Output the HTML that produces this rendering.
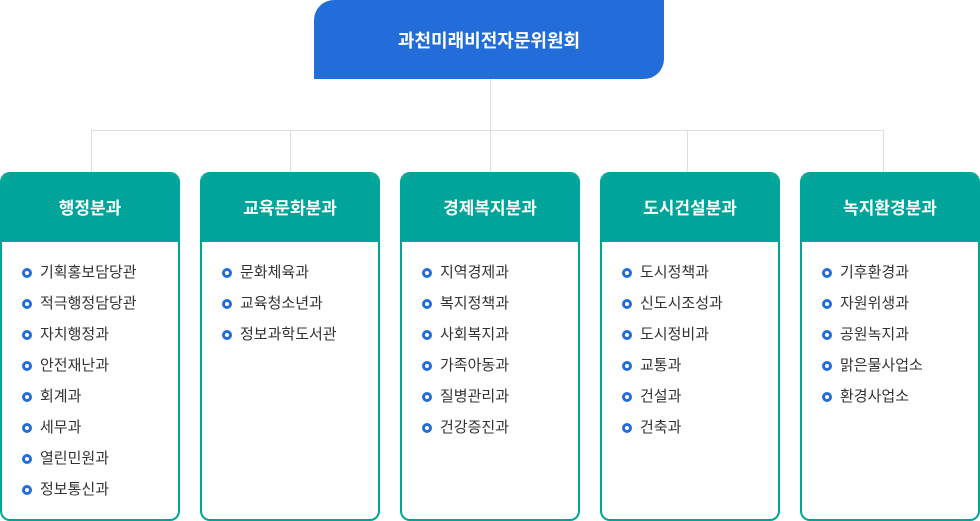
<!DOCTYPE html><html><head><meta charset="utf-8"><style>
body{margin:0;width:980px;height:521px;background:#fff;position:relative;font-family:"Liberation Sans","Noto Sans CJK KR",sans-serif;overflow:hidden}
.top{position:absolute;left:314px;top:0;width:350px;height:79px;background:#236ddb;border-radius:20px 0 20px 0;color:#fff;font-size:18px;font-weight:bold;text-align:center;line-height:82px}
.l{position:absolute;background:#ddd}
.box{position:absolute;top:172px;width:176px;height:345px;border:2px solid #00a498;border-radius:10px;overflow:hidden;background:#fff}
.h{background:#00a498;height:68px;color:#fff;font-weight:bold;font-size:17px;text-align:center;line-height:70px}
ul{list-style:none;margin:0;padding:18px 0 0 20px}
li{position:relative;padding-left:18px;font-size:15px;color:#333;height:31px;line-height:26px}
li:before{content:"";position:absolute;left:0;top:8px;width:4px;height:4px;border:3px solid #236ddb;border-radius:50%}
</style></head><body>
<div class="top">과천미래비전자문위원회</div>
<div class="l" style="left:490px;top:79px;width:1px;height:93px"></div>
<div class="l" style="left:91px;top:130px;width:793px;height:1px"></div>
<div class="l" style="left:91px;top:130px;width:1px;height:42px"></div>
<div class="l" style="left:290px;top:130px;width:1px;height:42px"></div>
<div class="l" style="left:687px;top:130px;width:1px;height:42px"></div>
<div class="l" style="left:883px;top:130px;width:1px;height:42px"></div>
<div class="box" style="left:0"><div class="h">행정분과</div><ul><li>기획홍보담당관</li><li>적극행정담당관</li><li>자치행정과</li><li>안전재난과</li><li>회계과</li><li>세무과</li><li>열린민원과</li><li>정보통신과</li></ul></div>
<div class="box" style="left:200px"><div class="h">교육문화분과</div><ul><li>문화체육과</li><li>교육청소년과</li><li>정보과학도서관</li></ul></div>
<div class="box" style="left:400px"><div class="h">경제복지분과</div><ul><li>지역경제과</li><li>복지정책과</li><li>사회복지과</li><li>가족아동과</li><li>질병관리과</li><li>건강증진과</li></ul></div>
<div class="box" style="left:600px"><div class="h">도시건설분과</div><ul><li>도시정책과</li><li>신도시조성과</li><li>도시정비과</li><li>교통과</li><li>건설과</li><li>건축과</li></ul></div>
<div class="box" style="left:800px"><div class="h">녹지환경분과</div><ul><li>기후환경과</li><li>자원위생과</li><li>공원녹지과</li><li>맑은물사업소</li><li>환경사업소</li></ul></div>
</body></html>
